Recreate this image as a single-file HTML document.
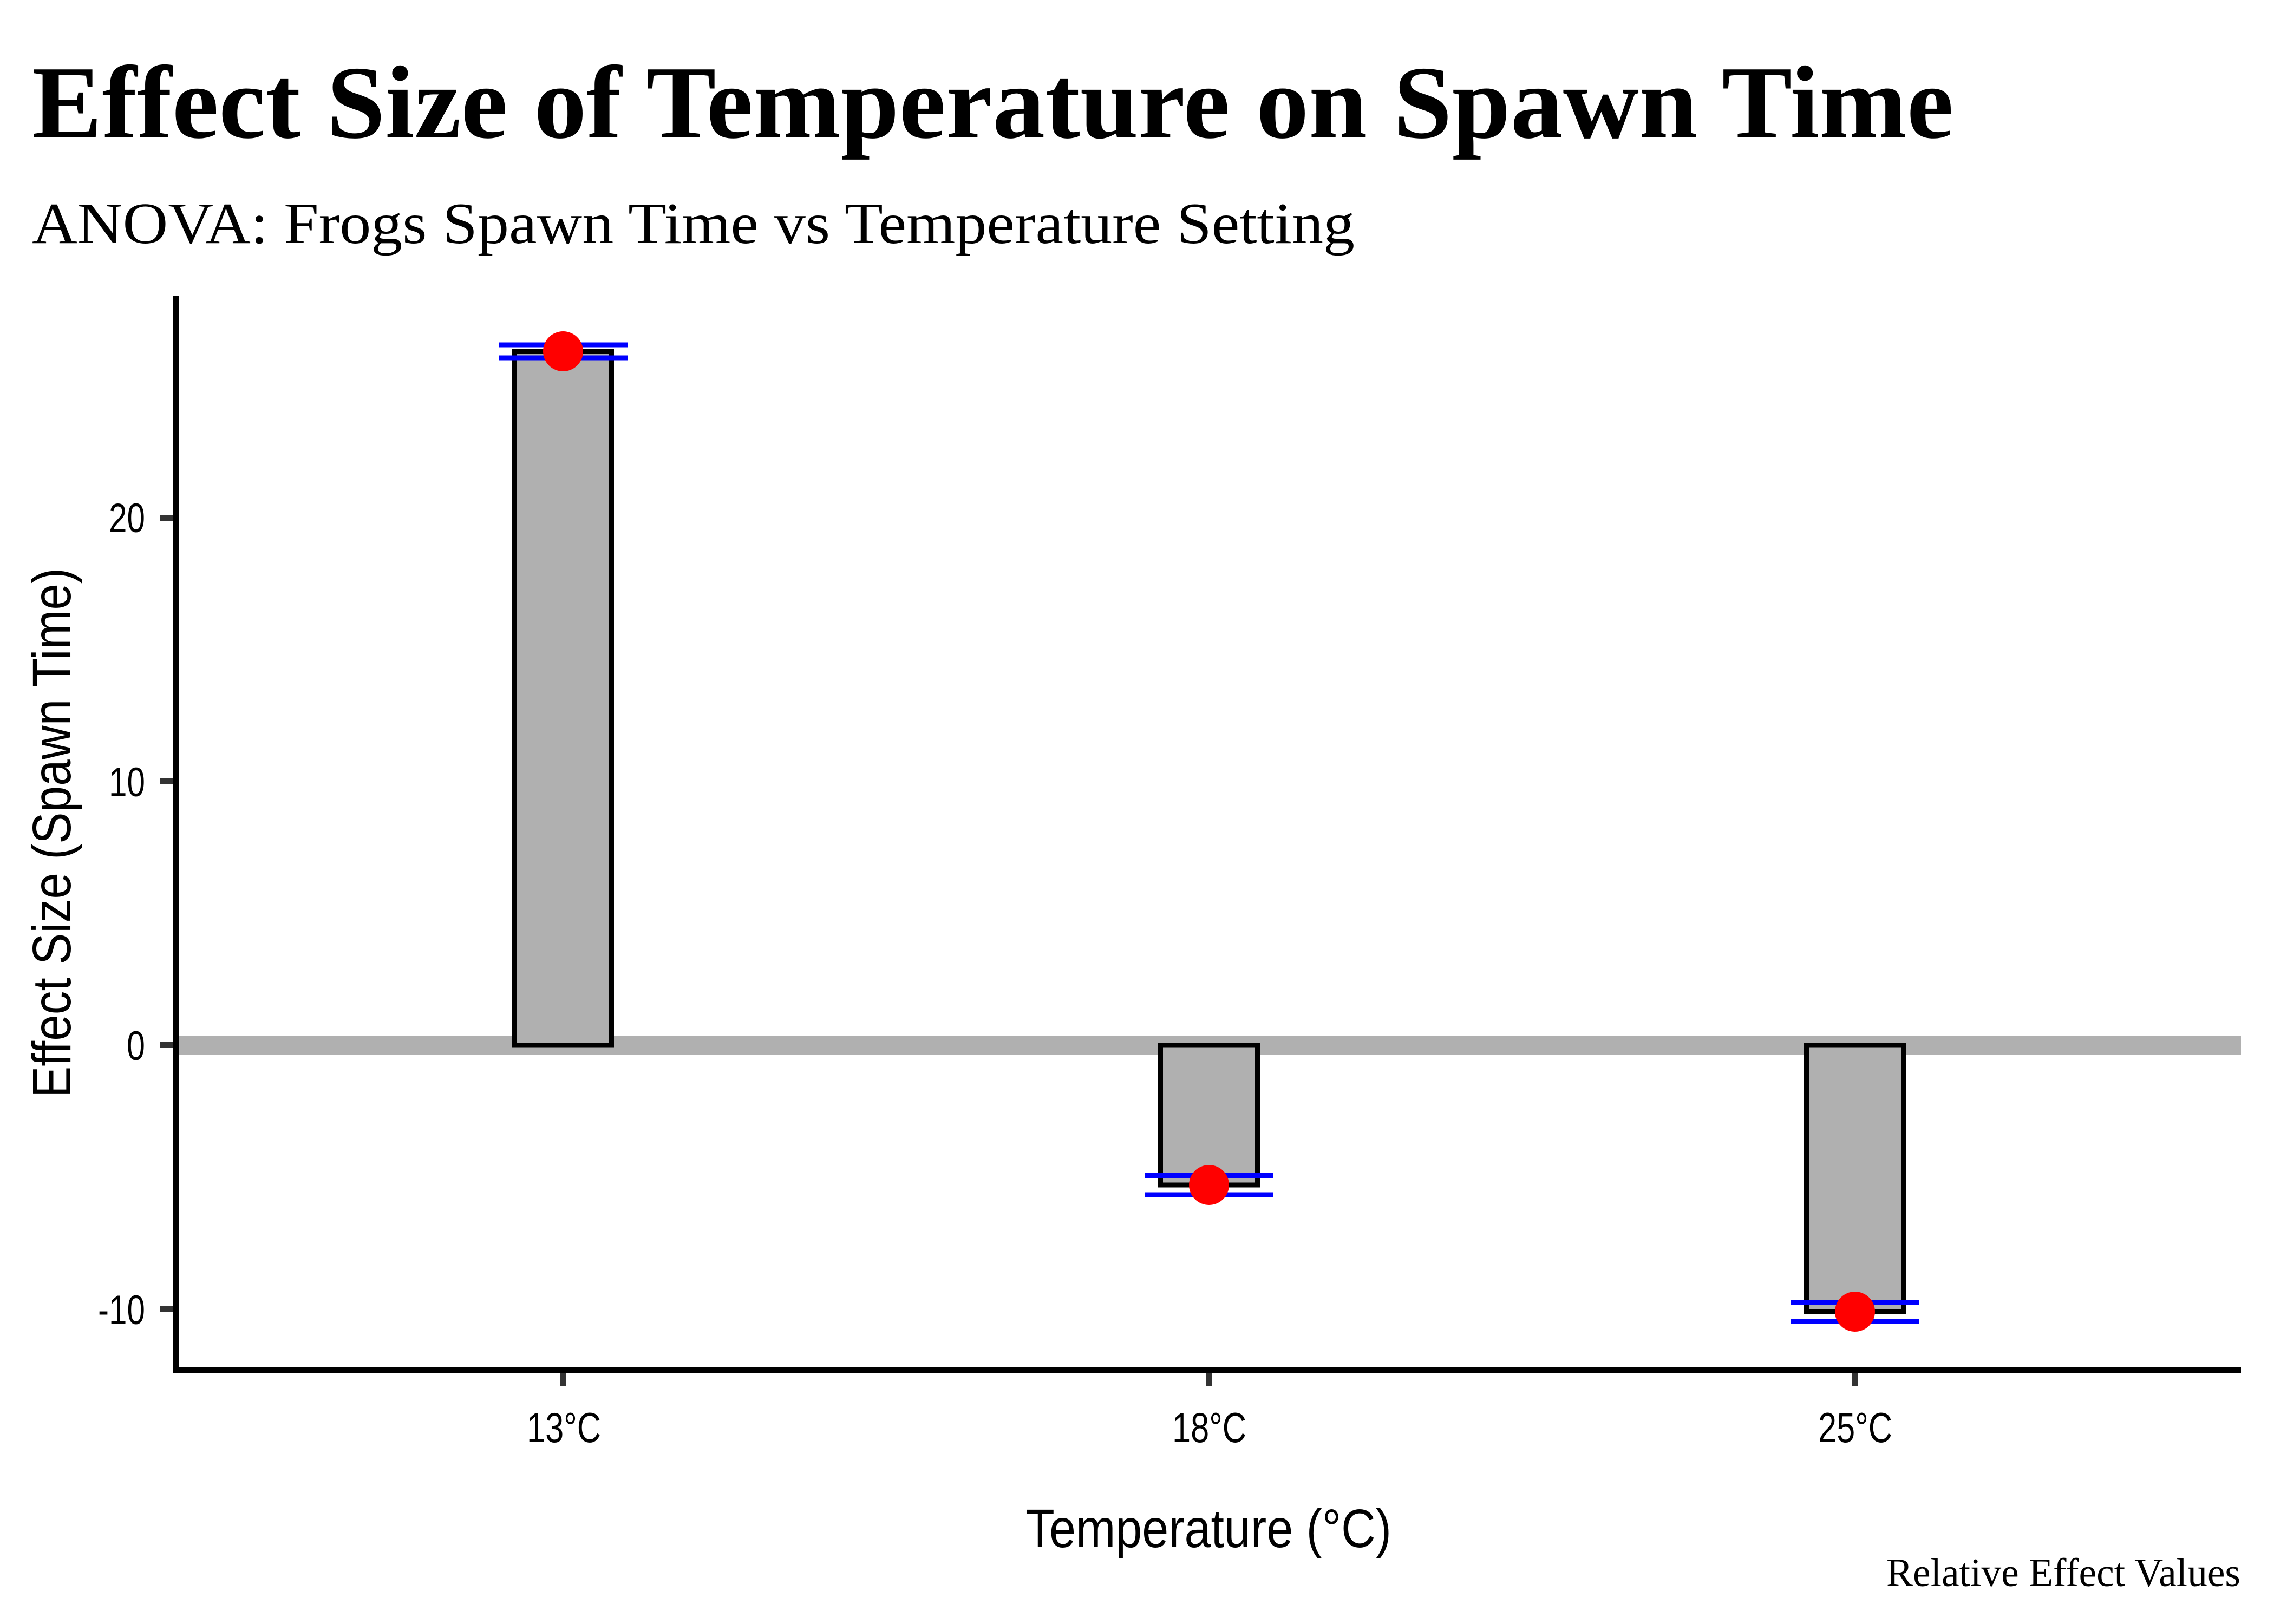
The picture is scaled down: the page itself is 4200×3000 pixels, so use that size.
<!DOCTYPE html>
<html>
<head>
<meta charset="utf-8">
<style>
  html, body { margin: 0; padding: 0; background: #ffffff; }
  svg { display: block; }
</style>
</head>
<body>
<svg xmlns="http://www.w3.org/2000/svg" width="4200" height="3000" viewBox="0 0 4200 3000">
  <rect x="0" y="0" width="4200" height="3000" fill="#ffffff"/>

  <!-- Title -->
  <text x="59" y="254" font-family="'Liberation Serif', serif" font-weight="bold" font-size="192" fill="#000" textLength="3549" lengthAdjust="spacingAndGlyphs">Effect Size of Temperature on Spawn Time</text>
  <!-- Subtitle -->
  <text x="59" y="449" font-family="'Liberation Serif', serif" font-size="108" fill="#000" textLength="2443" lengthAdjust="spacingAndGlyphs">ANOVA: Frogs Spawn Time vs Temperature Setting</text>

  <!-- zero reference line -->
  <rect x="324" y="1913" width="3815" height="35" fill="#B0B0B0"/>

  <!-- Bars -->
  <rect x="950.5" y="649.5" width="179" height="1281.5" fill="#B0B0B0" stroke="#000" stroke-width="9"/>
  <rect x="2143.5" y="1931" width="179" height="258" fill="#B0B0B0" stroke="#000" stroke-width="9"/>
  <rect x="3336.5" y="1931" width="179" height="492" fill="#B0B0B0" stroke="#000" stroke-width="9"/>

  <!-- Error bars -->
  <g stroke="#0000FF" stroke-width="9" fill="none">
    <line x1="921" y1="637" x2="1159" y2="637"/>
    <line x1="921" y1="661" x2="1159" y2="661"/>
    <line x1="1040" y1="637" x2="1040" y2="661"/>
    <line x1="2114" y1="2171.5" x2="2352" y2="2171.5"/>
    <line x1="2114" y1="2207" x2="2352" y2="2207"/>
    <line x1="2233" y1="2171.5" x2="2233" y2="2207"/>
    <line x1="3307" y1="2405.5" x2="3545" y2="2405.5"/>
    <line x1="3307" y1="2440.5" x2="3545" y2="2440.5"/>
    <line x1="3426" y1="2405.5" x2="3426" y2="2440.5"/>
  </g>

  <!-- Points -->
  <circle cx="1040" cy="649" r="37" fill="#FF0000"/>
  <circle cx="2233" cy="2189" r="37" fill="#FF0000"/>
  <circle cx="3426" cy="2423" r="37" fill="#FF0000"/>

  <!-- Axes -->
  <line x1="324.5" y1="547" x2="324.5" y2="2536" stroke="#000" stroke-width="11"/>
  <line x1="319" y1="2531" x2="4139" y2="2531" stroke="#000" stroke-width="11"/>

  <!-- Y ticks -->
  <g stroke="#333333" stroke-width="11">
    <line x1="295" y1="956.5" x2="319" y2="956.5"/>
    <line x1="295" y1="1443.5" x2="319" y2="1443.5"/>
    <line x1="295" y1="1930.5" x2="319" y2="1930.5"/>
    <line x1="295" y1="2417.5" x2="319" y2="2417.5"/>
  </g>
  <!-- X ticks -->
  <g stroke="#333333" stroke-width="11">
    <line x1="1040.5" y1="2536" x2="1040.5" y2="2560"/>
    <line x1="2233" y1="2536" x2="2233" y2="2560"/>
    <line x1="3426.5" y1="2536" x2="3426.5" y2="2560"/>
  </g>

  <!-- Y tick labels -->
  <g font-family="'Liberation Sans', sans-serif" font-size="76" fill="#000">
    <text x="201" y="983" textLength="67" lengthAdjust="spacingAndGlyphs">20</text>
    <text x="201" y="1471" textLength="67" lengthAdjust="spacingAndGlyphs">10</text>
    <text x="234" y="1958" textLength="34" lengthAdjust="spacingAndGlyphs">0</text>
    <text x="181" y="2446" textLength="87" lengthAdjust="spacingAndGlyphs">-10</text>
  </g>

  <!-- X tick labels -->
  <g font-family="'Liberation Sans', sans-serif" font-size="78" fill="#000">
    <text x="973" y="2664" textLength="137" lengthAdjust="spacingAndGlyphs">13°C</text>
    <text x="2165" y="2664" textLength="137" lengthAdjust="spacingAndGlyphs">18°C</text>
    <text x="3358" y="2664" textLength="137" lengthAdjust="spacingAndGlyphs">25°C</text>
  </g>

  <!-- Axis titles -->
  <text x="1894" y="2858" font-family="'Liberation Sans', sans-serif" font-size="100" fill="#000" textLength="676" lengthAdjust="spacingAndGlyphs">Temperature (°C)</text>
  <text transform="translate(130,2028) rotate(-90)" x="0" y="0" font-family="'Liberation Sans', sans-serif" font-size="100" fill="#000" textLength="979" lengthAdjust="spacingAndGlyphs">Effect Size (Spawn Time)</text>

  <!-- Caption -->
  <text x="3484" y="2930" font-family="'Liberation Serif', serif" font-size="74" fill="#000" textLength="654" lengthAdjust="spacingAndGlyphs">Relative Effect Values</text>
</svg>
</body>
</html>
